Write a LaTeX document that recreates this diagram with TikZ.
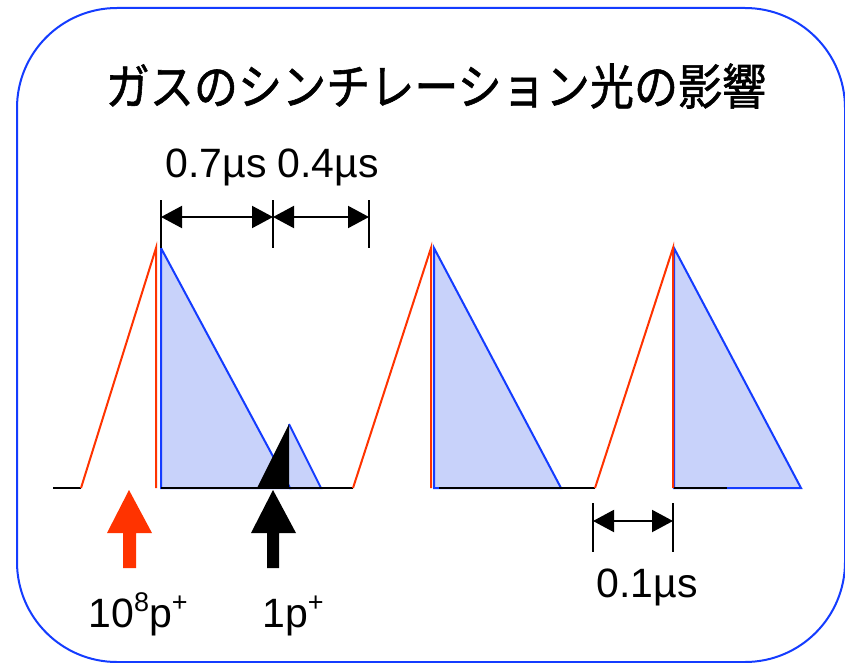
\documentclass[tikz,border=0pt]{standalone}
\usepackage{fontspec}
\setmainfont{Liberation Sans}
\newfontfamily\jpfont[FakeBold=1.2]{Noto Sans CJK JP}
\usetikzlibrary{arrows.meta}
\definecolor{pblue}{RGB}{20,60,255}
\definecolor{pfill}{RGB}{200,210,250}
\definecolor{pred}{RGB}{255,51,0}
\tikzset{
  redline/.style={draw=pred,line width=2pt},
  blueline/.style={draw=pblue,line width=2pt},
  baseline/.style={draw=black,line width=2pt},
  tick/.style={draw=black,line width=2pt},
  dimarrow/.style={draw=black,line width=2pt,{Triangle[length=21pt,width=22pt]}-{Triangle[length=21pt,width=22pt]}},
  lbl/.style={font=\fontsize{41}{45}\selectfont,inner sep=0pt,anchor=base},
  bigarrow/.style={line width=0pt,draw=none}
}
\begin{document}
\begin{tikzpicture}[x=1pt,y=-1pt]
\useasboundingbox (0,0) rectangle (845,663);
\fill[white] (0,0) rectangle (845,663);
% frame
\draw[pblue,line width=2pt,rounded corners=100pt] (17,8) rectangle (845,662);
% title
\node[font=\jpfont\fontsize{49}{53}\selectfont,xscale=0.9,inner sep=0pt] (title) at (436,86) {ガスのシンチレーション光の影響};

% coordinates
\coordinate (p1a) at (53,488);
\coordinate (p1s) at (81,488);
\coordinate (p1t) at (156,248);
\coordinate (p1b) at (156,488);
\coordinate (b1t) at (161,248);
\coordinate (b1b) at (161,488);
\coordinate (b1e) at (290,488);
\coordinate (s1t) at (289,424);
\coordinate (s1b) at (289,488);
\coordinate (s1l) at (257,488);
\coordinate (s1e) at (321,488);
\coordinate (p2s) at (353,488);
\coordinate (p2t) at (431,248);
\coordinate (p2b) at (431,488);
\coordinate (b2t) at (434,248);
\coordinate (b2b) at (434,488);
\coordinate (b2e) at (561,488);
\coordinate (k2s) at (439,488);
\coordinate (p3s) at (595,488);
\coordinate (p3t) at (673,248);
\coordinate (p3b) at (673,488);
\coordinate (b3t) at (674,248);
\coordinate (b3b) at (674,488);
\coordinate (b3e) at (801,488);
\coordinate (k3e) at (727,488);

% blue fills
\fill[pfill] (b1t) -- (b1b) -- (b1e) -- cycle;
\fill[pfill] (s1t) -- (s1b) -- (s1e) -- cycle;
\fill[pfill] (b2t) -- (b2b) -- (b2e) -- cycle;
\fill[pfill] (b3t) -- (b3b) -- (b3e) -- cycle;
% blue outlines
\draw[blueline] (b1t) -- (b1b) -- (b1e) -- cycle;
\draw[blueline] (s1t) -- (s1e) -- (s1b);
\draw[blueline] (b2t) -- (b2b) -- (b2e) -- cycle;
\draw[blueline] (b3t) -- (b3b) -- (b3e) -- cycle;
% black baselines
\draw[baseline] (p1a) -- (p1s);
\draw[baseline] (b1b) -- (p2s);
\draw[baseline] (k2s) -- (p3s);
\draw[baseline] (b3b) -- (k3e);
% red rises
\draw[redline] (p1s) -- (p1t) -- (p1b);
\draw[redline] (p2s) -- (p2t) -- (p2b);
\draw[redline] (p3s) -- (p3t) -- (p3b);
% small black triangle
\fill[black] (s1l) -- (s1t) -- (s1b) -- cycle;

% top dimension
\coordinate (t1a) at (161,200);
\coordinate (t2a) at (273,200);
\coordinate (t2b) at (273,248);
\coordinate (t3a) at (369,200);
\coordinate (t3b) at (369,248);
\draw[tick] (t1a) -- (b1t);
\draw[tick] (t2a) -- (t2b);
\draw[tick] (t3a) -- (t3b);
\coordinate (d1) at (161,217);
\coordinate (d2) at (273,217);
\coordinate (d3) at (369,217);
\draw[dimarrow] (d1) -- (d2);
\draw[dimarrow] (d2) -- (d3);
\node[lbl] (l07) at (216,178) {0.7µs};
\node[lbl] (l04) at (328,178) {0.4µs};

% bottom dimension
\coordinate (u1a) at (593,503);
\coordinate (u1b) at (593,552);
\coordinate (u2a) at (673,503);
\coordinate (u2b) at (673,552);
\draw[tick] (u1a) -- (u1b);
\draw[tick] (u2a) -- (u2b);
\coordinate (e1) at (593,521);
\coordinate (e2) at (673,521);
\draw[dimarrow] (e1) -- (e2);
\node[lbl] (l01) at (647,597) {0.1µs};

% thick arrows
\fill[pred] (123,568) -- (123,533) -- (107,533) -- (129,490) -- (152,533) -- (136,533) -- (136,568) -- cycle;
\fill[black] (267,568) -- (267,533) -- (251,533) -- (273,490) -- (296,533) -- (279,533) -- (279,568) -- cycle;
\node[lbl] (l108) at (138,627) {10\raisebox{0.38em}{\fontsize{27}{30}\selectfont 8}p\raisebox{0.38em}{\fontsize{27}{30}\selectfont +}};
\node[lbl] (l1p) at (293,627) {1p\raisebox{0.38em}{\fontsize{27}{30}\selectfont +}};
\end{tikzpicture}
\end{document}
